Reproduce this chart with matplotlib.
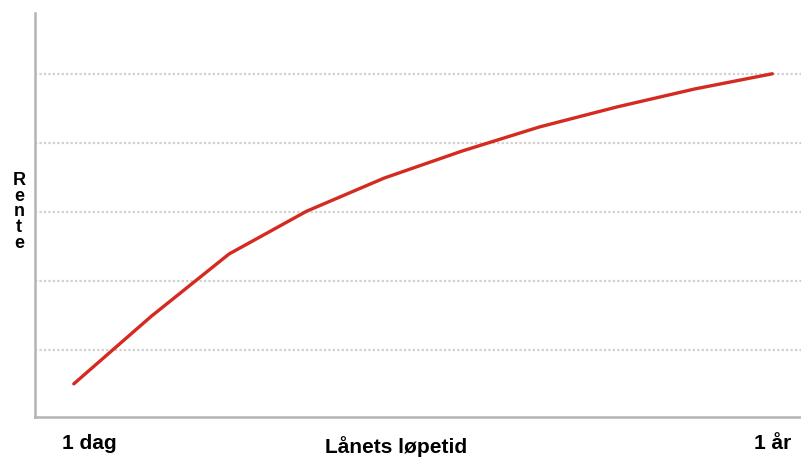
import matplotlib.pyplot as plt

# Yield curve: interest rate vs. loan term
terms = list(range(10))
rates = [0.51, 1.49, 2.39, 3.01, 3.49, 3.88, 4.23, 4.52, 4.78, 5.0]
grid_levels = [1, 2, 3, 4, 5]
tick_labels = ["1 dag", "1 år"]

plt.rcParams["font.family"] = ["Liberation Sans", "DejaVu Sans"]

fig = plt.figure(figsize=(8.01, 4.57), dpi=100)
ax = fig.add_axes([35 / 801, 40 / 457, 1 - 35 / 801, 404 / 457])

for g in grid_levels:
    ax.axhline(g, color="#d0d0d0", lw=1.6, ls=(0, (1, 1)), zorder=1)

ax.plot(terms, rates, color="#d42a20", lw=2.4, zorder=3, solid_capstyle="round")

ax.set_xlim(-0.5, 9.37)
ax.set_ylim(0.03, 5.88)

for s in ["top", "right"]:
    ax.spines[s].set_visible(False)
for s in ["left", "bottom"]:
    ax.spines[s].set_color("#b4b4b4")
    ax.spines[s].set_linewidth(1.8)

ax.set_xticks([terms[0] + 0.2, terms[-1]])
ax.set_xticklabels(tick_labels, fontsize=15, fontweight="bold")
ax.tick_params(axis="x", length=0, pad=12)
ax.set_yticks([])

fig.text(396 / 801, 1 - 447 / 457, "Lånets løpetid", ha="center", va="center",
         fontsize=15, fontweight="bold")
fig.text(19 / 801, 1 - 212 / 457, "R\ne\nn\nt\ne", ha="center", va="center",
         fontsize=13, fontweight="bold", linespacing=0.9)

fig.savefig("out.png", dpi=100)
